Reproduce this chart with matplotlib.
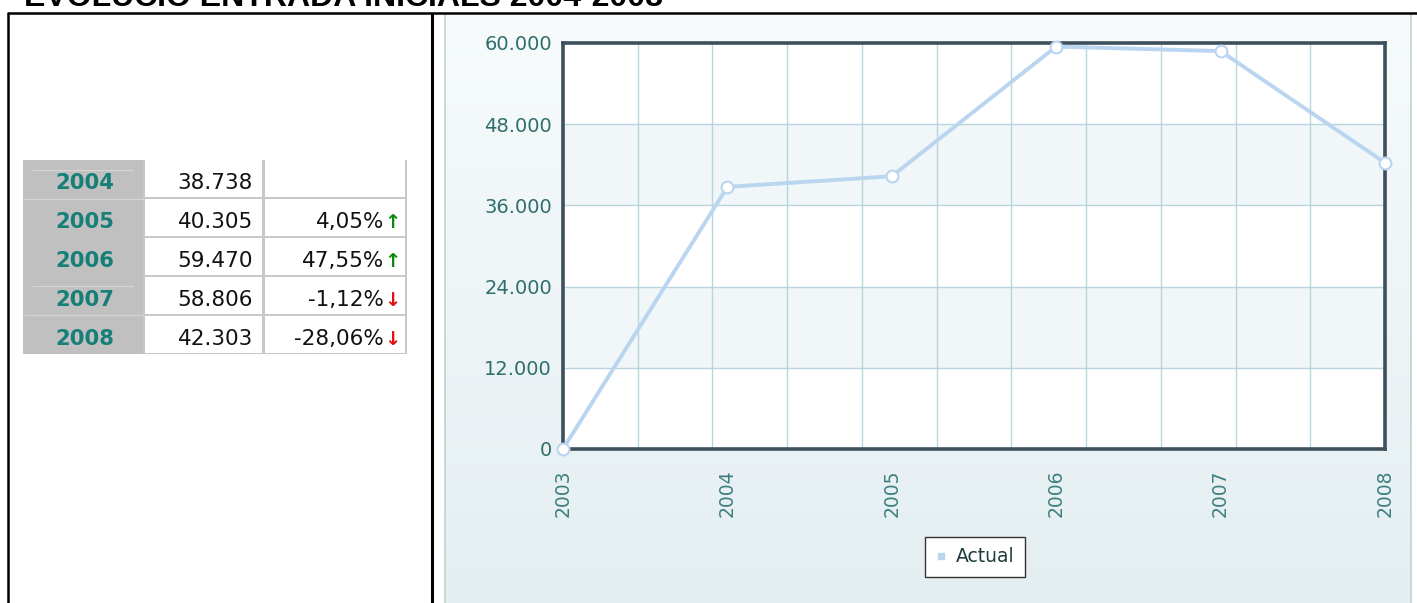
import numpy as np
import matplotlib
matplotlib.use("Agg")
import matplotlib.pyplot as plt
from matplotlib.patches import Rectangle
from matplotlib.lines import Line2D
from matplotlib.colors import LinearSegmentedColormap

# ---------------- data ----------------
chart_years = [2003, 2004, 2005, 2006, 2007, 2008]
chart_values = [0, 38738, 40305, 59470, 58806, 42303]
y_ticks = [0, 12000, 24000, 36000, 48000, 60000]
series_name = "Actual"

table_years = [2004, 2005, 2006, 2007, 2008]
table_values = [38738, 40305, 59470, 58806, 42303]
table_pct = [None, 4.05, 47.55, -1.12, -28.06]

title = "EVOLUCIÓ ENTRADA INICIALS 2004-2008"


def fmt_int(v):
    return f"{v:,}".replace(",", ".")


def fmt_pct(p):
    return f"{p:.2f}".replace(".", ",") + "%"


W, H = 1417, 603
fig = plt.figure(figsize=(W / 100, H / 100), dpi=100)
fig.patch.set_facecolor("white")

# ---------------- background canvas in pixel coords ----------------
bg = fig.add_axes([0, 0, 1, 1], zorder=0)
bg.axis("off")
grad = LinearSegmentedColormap.from_list("g", ["#f7fbfc", "#e4eef1"])
bg.imshow(np.linspace(0, 1, 256).reshape(-1, 1), cmap=grad, aspect="auto",
          extent=(445, 1411, 603, 15), interpolation="bilinear")
bg.set_xlim(0, W)
bg.set_ylim(H, 0)
bg.plot([445, 445], [15, 603], color="#c5d0d4", lw=1.2)
bg.plot([1411, 1411], [15, 603], color="#c5d0d4", lw=1.2)

# outer frame and divider
bg.plot([8, 8], [13, 603], color="black", lw=1.8, solid_capstyle="butt")
bg.plot([7, W], [13, 13], color="black", lw=1.8, solid_capstyle="butt")
bg.plot([431.5, 431.5], [13, 603], color="black", lw=2.2, solid_capstyle="butt")

# title (cut off at the top, as in the reference)
bg.text(24, 6, title, ha="left", va="baseline", fontsize=23,
        fontweight="bold", family="Liberation Sans", color="black")

# ---------------- table ----------------
row_tops = [160, 199, 238, 277, 316]
row_bots = [196.5, 235.5, 274.5, 313.5, 352.5]
bg.add_patch(Rectangle((143, 160), 264, 194, facecolor="#c8c8c8", edgecolor="none"))
bg.add_patch(Rectangle((23, 160), 120, 194, facecolor="#c0c0c0", edgecolor="none"))
for t, b in zip(row_tops, row_bots):
    bg.add_patch(Rectangle((145, t), 117, b - t, facecolor="white", edgecolor="none"))
    bg.add_patch(Rectangle((265, t), 140, b - t, facecolor="white", edgecolor="none"))
for yl, x0, x1 in [(170, 33, 133), (199, 25, 143), (286, 33, 133), (315, 25, 143)]:
    bg.plot([x0, x1], [yl, yl], color="#d6d6d6", lw=0.8)

for i, (yr, val, pct) in enumerate(zip(table_years, table_values, table_pct)):
    yc = (row_tops[i] + row_bots[i]) / 2 + 5
    bg.text(85, yc, str(yr), ha="center", va="center", fontsize=15.2,
            fontweight="bold", color="#177f78")
    bg.text(253, yc, fmt_int(val), ha="right", va="center", fontsize=15.5,
            color="#111111")
    if pct is not None:
        bg.text(384, yc, fmt_pct(pct), ha="right", va="center", fontsize=15.5,
                color="#111111")
        up = pct >= 0
        bg.text(384, yc, "\u2191" if up else "\u2193", ha="left", va="center",
                fontsize=14, fontweight="bold",
                color="#0a8a0a" if up else "#e01010")

# ---------------- chart ----------------
ax = fig.add_axes([563 / W, (H - 449) / H, 822 / W, 406 / H], zorder=2)
ax.set_facecolor("white")
ax.set_xlim(chart_years[0], chart_years[-1])
ax.set_ylim(y_ticks[0], y_ticks[-1])
for i in range(len(y_ticks) - 1):
    if i % 2 == 1:
        ax.axhspan(y_ticks[i], y_ticks[i + 1], color="#f1f6f8", zorder=0, lw=0)

ax.set_yticks(y_ticks)
ax.set_yticklabels([fmt_int(v) for v in y_ticks])
ax.set_xticks(chart_years)
ax.set_xticklabels([str(y) for y in chart_years], rotation=90)
ax.set_xticks(np.linspace(chart_years[0], chart_years[-1], 12), minor=True)
ax.set_axisbelow(True)
ax.yaxis.grid(True, color="#b8d5dd", lw=1.0)
ax.xaxis.grid(True, which="minor", color="#b8d5dd", lw=1.0)
ax.tick_params(axis="both", which="both", length=0)
ax.tick_params(axis="y", pad=8, labelsize=14, labelcolor="#2f6d6d")
ax.tick_params(axis="x", pad=15, labelsize=13.5, labelcolor="#3f7f80")
for s in ax.spines.values():
    s.set_color("#3e505c")
    s.set_linewidth(2.6)
    s.set_zorder(4)

ax.plot(chart_years, chart_values, color="#b9d5ef", lw=2.8, marker="o",
        markersize=8.5, markerfacecolor="white", markeredgecolor="#b9d5ef",
        markeredgewidth=1.5, zorder=5, clip_on=False)

handle = Line2D([], [], marker="s", ls="none", color="#b9d5ef", markersize=5)
leg = ax.legend([handle], [series_name], loc="center",
                bbox_to_anchor=(975 / W, 1 - 557 / H),
                bbox_transform=fig.transFigure, frameon=True, fancybox=False,
                edgecolor="#333333", framealpha=1, fontsize=13.5,
                handlelength=0.6, handletextpad=0.5, borderpad=0.55,
                labelcolor="#1f3a3a")
leg.get_frame().set_linewidth(1.0)

fig.savefig("out.png", dpi=100)
